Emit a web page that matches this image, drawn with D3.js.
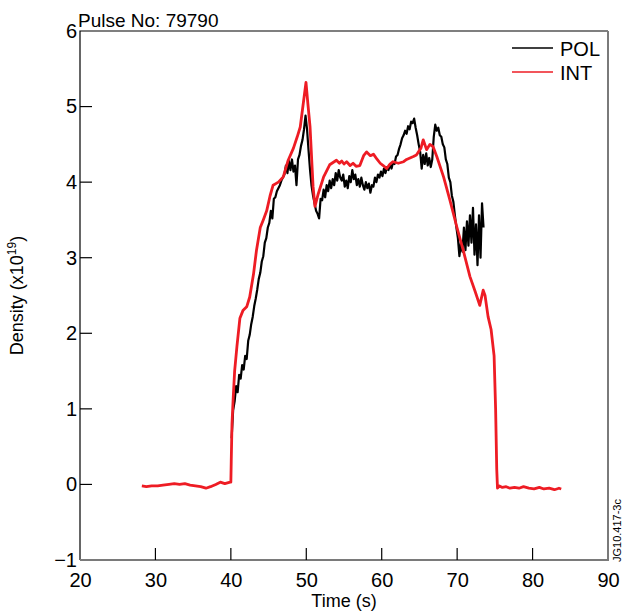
<!DOCTYPE html>
<html>
<head>
<meta charset="utf-8">
<script src="https://cdn.jsdelivr.net/npm/d3@7/dist/d3.min.js"></script>
<style>
  body { margin: 0; background: #fff; }
  svg { display: block; font-family: 'Liberation Sans', Arial, Helvetica, sans-serif; }
</style>
</head>
<body>
<svg id="chart" width="624" height="613"></svg>
<script>
// 脉冲号与刻度
const pulseNo = '79790';
const xTicks = [20, 30, 40, 50, 60, 70, 80, 90];
const yTicks = [-1, 0, 1, 2, 3, 4, 5, 6];

// INT 干涉仪密度 [时间, 密度]
const intData = [
  [28.2, -0.02], [28.8, -0.03], [29.5, -0.02], [30.3, -0.02], [31.0, -0.01], [31.8, 0.0],
  [32.5, 0.01], [33.2, 0.0], [33.9, 0.01], [34.6, -0.01], [35.3, -0.02], [36.0, -0.03],
  [36.7, -0.05], [37.3, -0.03], [38.0, 0.0], [38.6, 0.03], [39.2, 0.01], [39.9, 0.03],
  [40.0, 0.03], [40.05, 0.3], [40.15, 0.8], [40.3, 1.12], [40.5, 1.5], [40.8, 1.82],
  [41.2, 2.2], [41.6, 2.3], [42.1, 2.35], [42.5, 2.48], [43.0, 2.78], [43.4, 3.1],
  [43.9, 3.4], [44.3, 3.5], [44.75, 3.62], [45.2, 3.82], [45.6, 3.96], [46.3, 4.0],
  [46.95, 4.07], [47.6, 4.29], [48.3, 4.45], [48.8, 4.6], [49.2, 4.73], [49.6, 5.04],
  [49.96, 5.32], [50.2, 5.05], [50.5, 4.73], [50.9, 3.94], [51.15, 3.68], [51.6, 3.85],
  [52.3, 4.07], [53.1, 4.23], [54.0, 4.29], [54.4, 4.25], [54.7, 4.28], [55.0, 4.24],
  [55.35, 4.27], [55.8, 4.22], [56.2, 4.25], [56.6, 4.21], [57.1, 4.22], [57.6, 4.35],
  [58.0, 4.4], [58.5, 4.35], [58.9, 4.37], [59.4, 4.3], [59.8, 4.25], [60.2, 4.22],
  [60.65, 4.18], [61.1, 4.24], [61.5, 4.27], [62.2, 4.25], [62.9, 4.27], [63.3, 4.3],
  [63.75, 4.32], [64.2, 4.34], [64.6, 4.36], [65.2, 4.45], [65.5, 4.56], [65.95, 4.43],
  [66.4, 4.5], [66.8, 4.47], [67.3, 4.34], [68.2, 4.07], [69.05, 3.76], [69.95, 3.41],
  [70.8, 3.1], [71.7, 2.75], [72.4, 2.55], [73.0, 2.37], [73.45, 2.57], [73.7, 2.5],
  [74.1, 2.22], [74.5, 2.05], [74.9, 1.7], [75.1, 1.0], [75.25, 0.2], [75.35, -0.05],
  [75.6, -0.02], [76.0, -0.04], [76.5, -0.03], [77.0, -0.05], [77.6, -0.04], [78.2, -0.05],
  [78.8, -0.03], [79.5, -0.05], [80.2, -0.06], [80.9, -0.04], [81.5, -0.06], [82.2, -0.05],
  [82.9, -0.07], [83.5, -0.05], [83.8, -0.06]
];

// POL 偏振仪密度，从 40.1 s 起每 0.2 s 一个采样
const polStart = 40.1;
const polStep = 0.2;
const polValues = [
  0.61, 0.98, 1.10, 1.30, 1.22, 1.45, 1.40, 1.58, 1.52, 1.70,
  1.66, 1.90, 1.98, 2.12, 2.22, 2.36, 2.46, 2.58, 2.72, 2.80,
  2.95, 3.02, 3.20, 3.26, 3.40, 3.46, 3.62, 3.52, 3.78, 3.80,
  3.88, 3.92, 3.96, 4.02, 4.06, 4.10, 4.22, 4.12, 4.28, 4.16,
  4.30, 4.14, 4.22, 3.96, 4.30, 4.36, 4.48, 4.56, 4.70, 4.88,
  4.70, 4.42, 4.16, 3.95, 3.82, 3.72, 3.62, 3.58, 3.52, 3.78,
  3.76, 3.90, 3.80, 3.96, 3.88, 4.02, 3.92, 4.04, 3.96, 4.12,
  4.02, 4.16, 4.06, 4.02, 4.10, 3.94, 4.02, 3.92, 4.08, 4.00,
  4.16, 4.04, 4.10, 3.96, 4.04, 3.94, 4.06, 3.96, 3.90, 4.00,
  3.92, 3.98, 3.86, 3.96, 3.94, 4.06, 4.00, 4.10, 4.06, 4.14,
  4.08, 4.18, 4.12, 4.20, 4.16, 4.24, 4.18, 4.26, 4.24, 4.34,
  4.36, 4.44, 4.50, 4.58, 4.62, 4.68, 4.64, 4.74, 4.70, 4.80,
  4.78, 4.84, 4.72, 4.62, 4.50, 4.40, 4.18, 4.36, 4.24, 4.38,
  4.22, 4.32, 4.20, 4.30, 4.60, 4.76, 4.68, 4.72, 4.62, 4.60,
  4.50, 4.46, 4.30, 4.24, 4.06, 4.00, 3.82, 3.74, 3.56, 3.40,
  3.26, 3.02, 3.20, 3.08, 3.40, 3.10, 3.48, 3.16, 3.56, 3.20,
  3.66, 3.04, 3.44, 2.90, 3.56, 3.00, 3.72, 3.40
];

const series = [
  {name: 'POL', color: '#000000', width: 2.2, data: polValues.map((v, i) => [polStart + i * polStep, v])},
  {name: 'INT', color: '#ee1c24', width: 2.8, data: intData}
];

const svg = d3.select('#chart');
const margin = {top: 31, right: 16, bottom: 53, left: 80};
const width = +svg.attr('width');
const height = +svg.attr('height');

const x = d3.scaleLinear().domain([20, 90]).range([margin.left, width - margin.right]);
const y = d3.scaleLinear().domain([-1, 6]).range([height - margin.bottom, margin.top]);

// 曲线
const line = d3.line()
  .x(d => x(d[0]))
  .y(d => y(d[1]));

svg.append('g')
  .attr('fill', 'none')
  .attr('stroke-linejoin', 'round')
  .selectAll('path')
  .data(series)
  .join('path')
  .attr('stroke', d => d.color)
  .attr('stroke-width', d => d.width)
  .attr('d', d => line(d.data));

// 边框：上、左为细黑线，下、右为灰色粗线
const x0 = x(20), x1 = x(90), y0 = y(-1), y1 = y(6);
svg.append('path')
  .attr('d', `M${x0},${y0} L${x0},${y1} L${x1},${y1}`)
  .attr('fill', 'none')
  .attr('stroke', '#000')
  .attr('stroke-width', 1.2);
svg.append('path')
  .attr('d', `M${x0},${y0} L${x1},${y0} L${x1},${y1}`)
  .attr('fill', 'none')
  .attr('stroke', '#7a7a7a')
  .attr('stroke-width', 2);

// 坐标轴（刻度朝内）
const xAxis = svg.append('g')
  .attr('transform', `translate(0,${y0})`)
  .call(d3.axisBottom(x).tickValues(xTicks).tickSize(0).tickPadding(13).tickFormat(d3.format('d')));
xAxis.select('.domain').remove();
xAxis.selectAll('text').attr('font-size', 20).attr('fill', '#000').attr('font-family', null);
svg.append('g')
  .attr('stroke', '#000')
  .attr('stroke-width', 1.2)
  .selectAll('line')
  .data(xTicks.filter(d => d > 20 && d < 90))
  .join('line')
  .attr('x1', d => x(d))
  .attr('x2', d => x(d))
  .attr('y1', y0)
  .attr('y2', y0 - 12);

const yAxis = svg.append('g')
  .attr('transform', `translate(${x0},0)`)
  .call(d3.axisLeft(y).tickValues(yTicks).tickSize(0).tickPadding(3).tickFormat(d => d < 0 ? '\u2212' + Math.abs(d) : d));
yAxis.select('.domain').remove();
yAxis.selectAll('text').attr('font-size', 20).attr('fill', '#000').attr('font-family', null);
svg.append('g')
  .attr('stroke', '#000')
  .attr('stroke-width', 1.2)
  .selectAll('line')
  .data(yTicks.filter(d => d > -1 && d < 6))
  .join('line')
  .attr('x1', x0)
  .attr('x2', x0 + 12)
  .attr('y1', d => y(d))
  .attr('y2', d => y(d));

// 标题与轴标签
svg.append('text')
  .attr('x', 78)
  .attr('y', 27)
  .attr('font-size', 19)
  .text('Pulse No: ' + pulseNo);

svg.append('text')
  .attr('x', (x0 + x1) / 2)
  .attr('y', 607)
  .attr('text-anchor', 'middle')
  .attr('font-size', 18)
  .text('Time (s)');

const ylab = svg.append('text')
  .attr('transform', `translate(23,${(y0 + y1) / 2}) rotate(-90)`)
  .attr('text-anchor', 'middle')
  .attr('font-size', 18)
  .text('Density (x10');
ylab.append('tspan').attr('dy', -7).attr('font-size', 12).text('19');
ylab.append('tspan').attr('dy', 7).text(')');

svg.append('text')
  .attr('transform', `translate(621,${y0 + 2}) rotate(-90)`)
  .attr('font-size', 11)
  .text('JG10.417-3c');

// 图例
const legend = svg.append('g')
  .selectAll('g')
  .data(series)
  .join('g')
  .attr('transform', (d, i) => `translate(512,${48 + i * 24})`);
legend.append('line')
  .attr('x1', 0)
  .attr('x2', 41)
  .attr('stroke', d => d.color)
  .attr('stroke-width', 1.5);
legend.append('text')
  .attr('x', 48)
  .attr('y', 8)
  .attr('font-size', 20)
  .text(d => d.name);
</script>
</body>
</html>
